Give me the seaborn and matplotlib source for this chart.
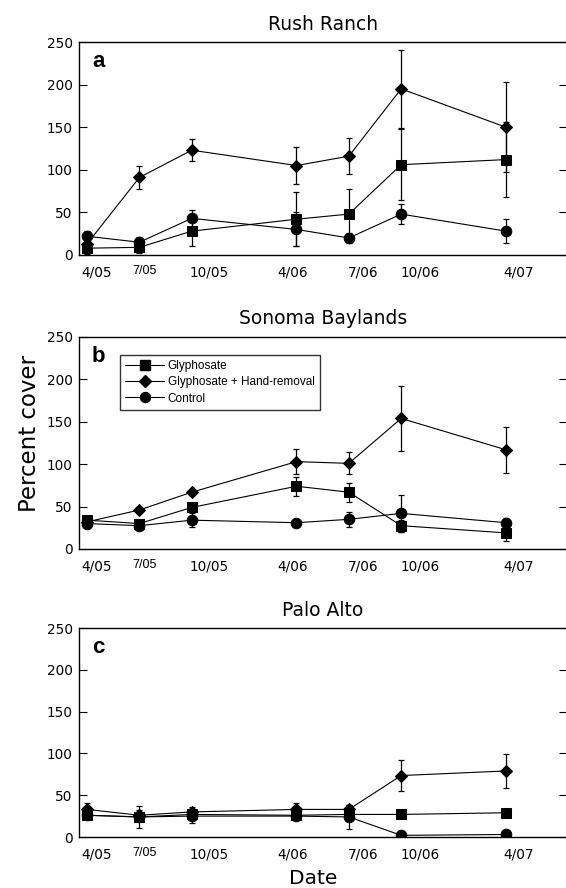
import numpy as np
import pandas as pd
import matplotlib
matplotlib.use("Agg")
import matplotlib.pyplot as plt
from matplotlib.lines import Line2D
import seaborn as sns

# ---------------- data ----------------
months = [0, 3, 6, 12, 15, 18, 24]
date_labels = ["4/05", "7/05", "10/05", "4/06", "7/06", "10/06", "4/07"]
label_pos = [0.57, 3.3, 7.0, 11.8, 15.8, 19.1, 24.7]
treatments = ["Glyphosate", "Glyphosate + Hand-removal", "Control"]
sites = ["Rush Ranch", "Sonoma Baylands", "Palo Alto"]
panel_letters = ["a", "b", "c"]

# Rush Ranch
rr_gly = [8, 9, 28, 42, 48, 106, 112]
rr_gly_err = [7, 7, 18, 32, 29, 42, 44]
rr_ghr = [13, 91, 123, 105, 116, 195, 150]
rr_ghr_err = [5, 14, 13, 22, 21, 46, 53]
rr_ctl = [22, 15, 43, 30, 20, 48, 28]
rr_ctl_err = [6, 6, 10, 20, 6, 12, 14]

# Sonoma Baylands
sb_gly = [34, 30, 49, 74, 67, 27.5, 19]
sb_gly_err = [4, 4, 5, 11, 11, 7, 9]
sb_ghr = [32, 46, 67, 103, 101, 154, 117]
sb_ghr_err = [3, 3, 3, 15, 13, 38, 27]
sb_ctl = [30, 27.5, 34, 31, 35, 42, 31]
sb_ctl_err = [4, 3, 8, 3, 9, 22, 5]

# Palo Alto
pa_gly = [26, 24, 27, 26, 27, 27, 29]
pa_gly_err = [4, 4, 4, 4, 4, 3, 4]
pa_ghr = [33, 26, 30, 33, 33, 73.5, 79]
pa_ghr_err = [8, 6, 6, 8, 5, 19, 20]
pa_ctl = [26, 24, 25, 25, 24, 2, 3]
pa_ctl_err = [5, 13, 8, 5, 14, 1, 1]

site_data = [
    (rr_gly, rr_gly_err, rr_ghr, rr_ghr_err, rr_ctl, rr_ctl_err),
    (sb_gly, sb_gly_err, sb_ghr, sb_ghr_err, sb_ctl, sb_ctl_err),
    (pa_gly, pa_gly_err, pa_ghr, pa_ghr_err, pa_ctl, pa_ctl_err),
]

# ---------------- style ----------------
sns.set_style("ticks")
plt.rcParams["font.family"] = ["DejaVu Sans"]
plt.rcParams["text.color"] = "black"
plt.rcParams["xtick.color"] = "black"
plt.rcParams["ytick.color"] = "black"
plt.rcParams["axes.labelcolor"] = "black"

markers = {"Glyphosate": "s", "Glyphosate + Hand-removal": "D", "Control": "o"}
msizes = {"Glyphosate": 7.2, "Glyphosate + Hand-removal": 6.5, "Control": 7.6}

W, H = 566, 888
fig = plt.figure(figsize=(W / 100, H / 100), dpi=100)

panels_px = [(42, 255), (337, 549), (628, 837)]
left_px, right_px = 79, 567

for i, (site, (top, bot)) in enumerate(zip(sites, panels_px)):
    ax = fig.add_axes([left_px / W, 1 - bot / H, (right_px - left_px) / W, (bot - top) / H])
    g, ge, d, de, c, ce = site_data[i]
    vals = {"Glyphosate": (g, ge), "Glyphosate + Hand-removal": (d, de), "Control": (c, ce)}
    rows = []
    for t in treatments:
        for m, v, e in zip(months, vals[t][0], vals[t][1]):
            rows.append({"month": m, "value": v, "err": e, "treatment": t})
    df = pd.DataFrame(rows)

    for t in treatments:
        sub = df[df.treatment == t]
        ax.errorbar(sub["month"], sub["value"], yerr=sub["err"], fmt="none",
                    ecolor="black", elinewidth=0.9, capsize=2.4, capthick=0.9, zorder=2)
        sns.lineplot(data=sub, x="month", y="value", ax=ax, color="black",
                     marker=markers[t], markersize=msizes[t], markeredgecolor="black",
                     markerfacecolor="black", linewidth=0.8, legend=False, zorder=3,
                     estimator=None, sort=False)

    ax.set_xlim(-0.46, 27.5)
    ax.set_ylim(0, 250)
    ax.set_yticks([0, 50, 100, 150, 200, 250])
    ax.set_yticklabels(["0", "50", "100", "150", "200", "250"])
    ax.set_xticks(label_pos)
    ax.set_xticklabels(date_labels)
    ax.set_xlabel("")
    ax.set_ylabel("")
    ax.tick_params(axis="x", length=0, pad=7.5, labelsize=9.8)
    ax.tick_params(axis="y", direction="in", length=6, width=0.8, pad=4.5, labelsize=9.8,
                   right=True)
    for lbl in ax.get_xticklabels():
        if lbl.get_text() == "7/05":
            lbl.set_fontfamily("Liberation Sans")
            lbl.set_fontsize(9)
    for sp in ax.spines.values():
        sp.set_linewidth(1.0)
        sp.set_color("black")

    ax.text((92 - left_px) / (right_px - left_px), (bot - 51) / (bot - top) if i == 0 else (bot - (top + 9)) / (bot - top),
            panel_letters[i], transform=ax.transAxes, fontsize=16,
            fontweight="bold", family="Liberation Sans", va="top", ha="left")
    ax.set_title(site, fontsize=13.5, pad=9, color="black")

    if i == 1:
        handles = [Line2D([0], [0], color="black", lw=0.8, marker=markers[t],
                          markersize=msizes[t] * 0.95, markerfacecolor="black",
                          markeredgecolor="black") for t in treatments]
        leg = ax.legend(handles, treatments, loc="upper left",
                        bbox_to_anchor=((120 - left_px) / (right_px - left_px), (bot - 355) / (bot - top)),
                        borderaxespad=0, frameon=True, fancybox=False, edgecolor="black",
                        prop={"family": "Liberation Sans", "size": 8.5},
                        handlelength=3.3, labelspacing=0.35, handletextpad=0.3,
                        borderpad=0.45)
        leg.get_frame().set_linewidth(1.0)

fig.text(30 / W, 1 - 433 / H, "Percent cover", rotation=90, ha="center", va="center", fontsize=16.5)
fig.text(313 / W, 1 - 878 / H, "Date", ha="center", va="center", fontsize=14.5)

fig.savefig("out.png", dpi=100)
